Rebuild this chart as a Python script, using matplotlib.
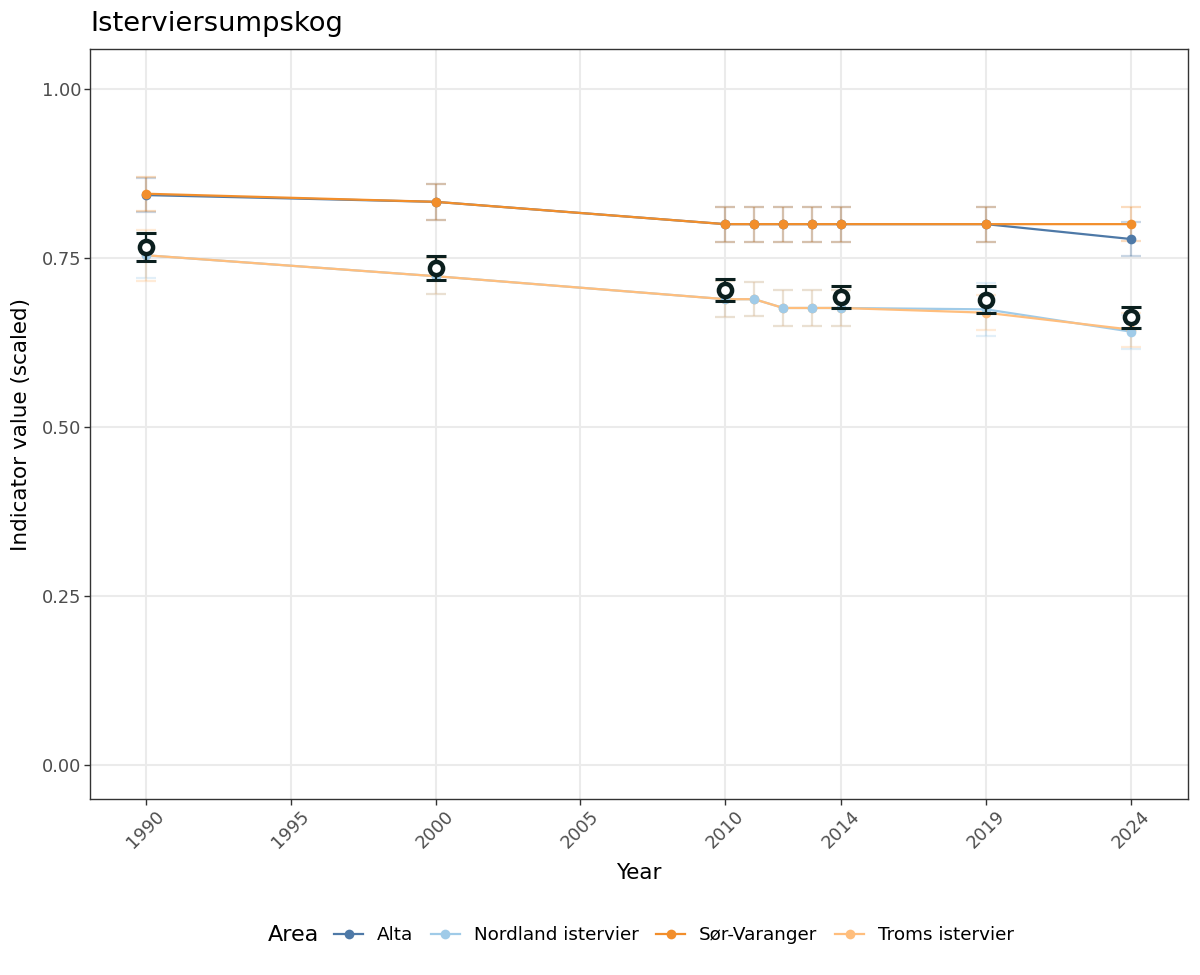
import matplotlib
matplotlib.use("Agg")
import matplotlib.pyplot as plt
from matplotlib.lines import Line2D

# ---- data ----
areas = ["Alta", "Nordland istervier", "Sør-Varanger", "Troms istervier"]
colors = ["#4E79A7", "#A0CBE8", "#F28E2B", "#FFBE7D"]
years_area = [1990, 2000, 2010, 2011, 2012, 2013, 2014, 2019, 2024]

alta = [0.843, 0.833, 0.800, 0.800, 0.800, 0.800, 0.800, 0.800, 0.778]
alta_err = [0.025, 0.027, 0.026, 0.026, 0.026, 0.026, 0.026, 0.026, 0.025]
nordland = [0.754, 0.723, 0.689, 0.689, 0.676, 0.676, 0.676, 0.674, 0.641]
nordland_err = [0.033, 0.027, 0.027, 0.025, 0.026, 0.026, 0.026, 0.039, 0.025]
sorvar = [0.845, 0.833, 0.800, 0.800, 0.800, 0.800, 0.800, 0.800, 0.800]
sorvar_err = [0.025, 0.027, 0.026, 0.026, 0.026, 0.026, 0.026, 0.026, 0.025]
troms = [0.754, 0.723, 0.689, 0.689, 0.676, 0.676, 0.676, 0.669, 0.644]
troms_err = [0.038, 0.027, 0.027, 0.025, 0.026, 0.026, 0.026, 0.026, 0.025]

years_total = [1990, 2000, 2010, 2014, 2019, 2024]
total = [0.766, 0.735, 0.703, 0.692, 0.688, 0.662]
total_err = [0.021, 0.018, 0.016, 0.016, 0.020, 0.0155]

xticks = [1990, 1995, 2000, 2005, 2010, 2014, 2019, 2024]
yticks = [0.00, 0.25, 0.50, 0.75, 1.00]
ytick_labels = ["0.00", "0.25", "0.50", "0.75", "1.00"]

series_vals = [alta, nordland, sorvar, troms]
series_errs = [alta_err, nordland_err, sorvar_err, troms_err]
point_z = [5, 4.5, 5.5, 4]

plt.rcParams['font.family'] = ['DejaVu Sans']

fig = plt.figure(figsize=(12, 9.75), dpi=100)
ax = fig.add_axes([0.075, 0.1805, 0.915, 0.7692])

# error bars (area)
for vals, errs, c in zip(series_vals, series_errs, colors):
    ax.errorbar(years_area, vals, yerr=errs, fmt='none', ecolor=c, alpha=0.3,
                elinewidth=1.6, capsize=7.5, capthick=1.6, zorder=2)
# lines
for vals, c in zip(series_vals, colors):
    ax.plot(years_area, vals, color=c, lw=1.6, zorder=3)
# points
for vals, c, z in zip(series_vals, colors, point_z):
    ax.plot(years_area, vals, 'o', color=c, ms=7, mew=0, zorder=z)

# overall
ax.errorbar(years_total, total, yerr=total_err, fmt='none', ecolor='#0B1F1E',
            elinewidth=1.6, capsize=7, capthick=2.2, zorder=6)
ax.plot(years_total, total, 'o', ms=9.5, mfc='white', mec='#0B1F1E', mew=3.2, zorder=7)

ax.set_xlim(1988.07, 2025.97)
ax.set_ylim(-0.0503, 1.059)
ax.set_xticks(xticks)
ax.set_xticklabels([str(x) for x in xticks], rotation=45, ha='center', va='top')
ax.set_yticks(yticks)
ax.set_yticklabels(ytick_labels)
ax.grid(True, color='#EBEBEB', lw=1.5, zorder=0)
ax.set_axisbelow(True)
for s in ax.spines.values():
    s.set_color('#333333')
    s.set_linewidth(1.0)
ax.tick_params(axis='both', colors='#333333', length=4, width=1.0,
               labelcolor='#4D4D4D', labelsize=12.8, pad=2)

ax.set_xlabel("Year", fontsize=15.5, labelpad=8)
ax.set_ylabel("Indicator value (scaled)", fontsize=15.5, labelpad=8)
ax.set_title("Isterviersumpskog", fontsize=19.7, loc='left', pad=13)
ax.title.set_position((-0.001, 1.0))

handles = [Line2D([0], [0], color=c, lw=1.6, marker='o', ms=7, mew=0) for c in colors]
fig.legend(handles, areas, loc='center', bbox_to_anchor=(674 / 1200, 1 - 935 / 975),
           ncol=4, frameon=False, fontsize=13.2, handlelength=1.6,
           handletextpad=0.75, columnspacing=0.95)
fig.text(268 / 1200, 1 - 935 / 975, "Area", fontsize=16, ha='left', va='center')

fig.savefig("out.png", dpi=100)
